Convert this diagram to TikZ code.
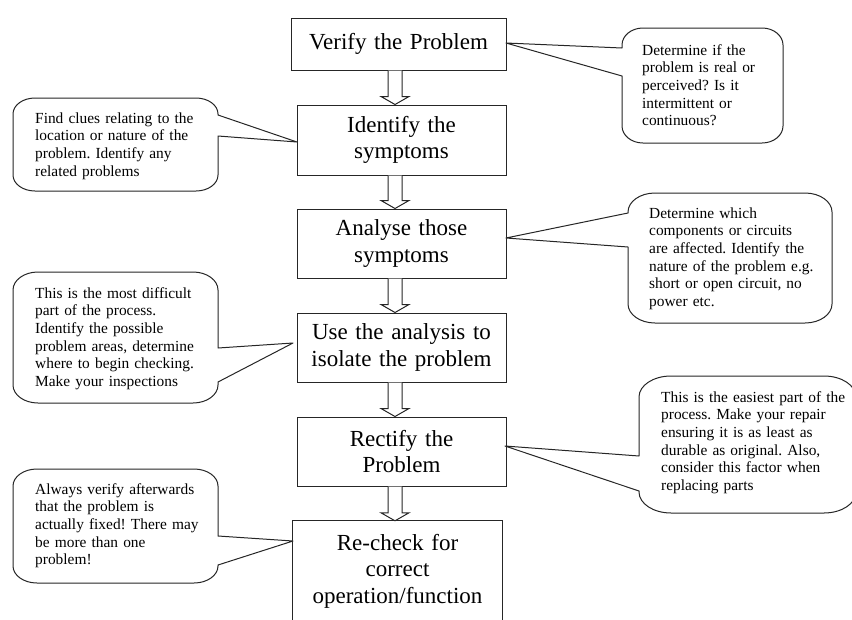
\documentclass[tikz,border=0pt]{standalone}
\usepackage{fontspec}
\setmainfont{Liberation Serif}
\frenchspacing
\usetikzlibrary{calc}
\colorlet{linecol}{black!85}
\tikzset{
  flowbox/.style={draw=linecol, line width=1pt, inner sep=0pt, text width=200pt, align=center,
    font=\fontsize{23}{26.5}\selectfont},
  flowtext/.style={inner sep=0pt, text width=200pt, align=center,
    font=\fontsize{23}{26.5}\selectfont},
  note/.style={inner sep=0pt, anchor=base west, text width=230pt, align=left,
    font=\fontsize{15.4}{17.7}\selectfont},
  outline/.style={draw=linecol, line width=1pt, line join=round, fill=white},
  arrowbox/.style={draw=linecol, line width=1pt, line join=miter, fill=white},
}
% callout with pointer on its right edge: L T R B rx ry p1 p2 tip
\newcommand\calloutR[9]{%
  \pgfmathsetmacro\coTa{#2+#6}\pgfmathsetmacro\coTb{#2+0.448*#6}%
  \pgfmathsetmacro\coBa{#4-#6}\pgfmathsetmacro\coBb{#4-0.448*#6}%
  \pgfmathsetmacro\coLa{#1+#5}\pgfmathsetmacro\coLb{#1+0.448*#5}%
  \pgfmathsetmacro\coRa{#3-#5}\pgfmathsetmacro\coRb{#3-0.448*#5}%
  \path[outline] (#3,#7) -- (#3,\coTa) .. controls (#3,\coTb) and (\coRb,#2) .. (\coRa,#2)
    -- (\coLa,#2) .. controls (\coLb,#2) and (#1,\coTb) .. (#1,\coTa)
    -- (#1,\coBa) .. controls (#1,\coBb) and (\coLb,#4) .. (\coLa,#4)
    -- (\coRa,#4) .. controls (\coRb,#4) and (#3,\coBb) .. (#3,\coBa)
    -- (#3,#8) -- (#9) -- cycle;%
}
% callout with pointer on its left edge: L T R B rx ry p1 p2 tip
\newcommand\calloutL[9]{%
  \pgfmathsetmacro\coTa{#2+#6}\pgfmathsetmacro\coTb{#2+0.448*#6}%
  \pgfmathsetmacro\coBa{#4-#6}\pgfmathsetmacro\coBb{#4-0.448*#6}%
  \pgfmathsetmacro\coLa{#1+#5}\pgfmathsetmacro\coLb{#1+0.448*#5}%
  \pgfmathsetmacro\coRa{#3-#5}\pgfmathsetmacro\coRb{#3-0.448*#5}%
  \path[outline] (#1,#7) -- (#1,\coTa) .. controls (#1,\coTb) and (\coLb,#2) .. (\coLa,#2)
    -- (\coRa,#2) .. controls (\coRb,#2) and (#3,\coTb) .. (#3,\coTa)
    -- (#3,\coBa) .. controls (#3,\coBb) and (\coRb,#4) .. (\coRa,#4)
    -- (\coLa,#4) .. controls (\coLb,#4) and (#1,\coBb) .. (#1,\coBa)
    -- (#1,#8) -- (#9) -- cycle;%
}
% hollow block arrow from one box to the next
\newcommand\blockarrow[2]{%
  \draw[arrowbox] let \p1=(#1.south), \p2=(#2.north) in
    (388pt,\y1) -- (388pt,\y2+8pt) -- (381pt,\y2+8pt) -- (395pt,\y2)
    -- (409pt,\y2+8pt) -- (402pt,\y2+8pt) -- (402pt,\y1);%
}
\begin{document}
\begin{tikzpicture}[x=1pt,y=-1pt]
\useasboundingbox (0,0) rectangle (852,619);

% main boxes
\node[flowbox, minimum width=215pt, minimum height=52pt] (b1) at (398.5,44) {Verify the Problem};
\node[flowbox, minimum width=209pt, minimum height=70pt] (b2) at (401.5,140) {Identify the\\symptoms};
\node[flowbox, minimum width=209pt, minimum height=69pt] (b3) at (401.5,243.5) {Analyse those\\symptoms};
\node[flowbox, minimum width=209pt, minimum height=69pt] (b4) at (401.5,347.5) {Use the analysis to\\isolate the problem};
\node[flowbox, minimum width=209pt, minimum height=69pt] (b5) at (401.5,451.5) {Rectify the\\Problem};
% last box runs past the bottom edge of the picture: only three sides drawn
\node[inner sep=0pt, minimum width=209pt, minimum height=140pt] (b6) at (397.5,591) {};
\draw[linecol, line width=1pt] (b6.south west) |- (b6.north east) -- (b6.south east);
\node[flowtext, anchor=base] (b6t) at (397.5,550) {Re-check for\\correct\\operation/function};

% block arrows
\blockarrow{b1}{b2}
\blockarrow{b2}{b3}
\blockarrow{b3}{b4}
\blockarrow{b4}{b5}
\blockarrow{b5}{b6}

% pointer tips
\coordinate (tA) at (506,43);
\coordinate (tB) at (297,142);
\coordinate (tC) at (506,238);
\coordinate (tD) at (293,343);
\coordinate (tE) at (505,446);
\coordinate (tF) at (293,541);

% callouts
\calloutL{622}{28}{783}{143}{21}{17}{48}{76}{tA}
\calloutR{13}{98}{218}{191}{22}{16}{115}{136}{tB}
\calloutL{628}{193}{832}{323}{27}{19}{213}{247}{tC}
\calloutR{13}{272}{218}{403}{25}{18}{348}{382}{tD}
\calloutL{639}{376}{856}{513}{32}{21}{456}{491}{tE}
\calloutR{13}{469}{218}{583}{24}{17}{536}{565}{tF}

\node[note] (nA) at (642,55) {Determine if the\\problem is real or\\perceived? Is it\\intermittent or\\continuous?};
\node[note] (nB) at (35,123) {Find clues relating to the\\location or nature of the\\problem. Identify any\\related problems};
\node[note] (nC) at (649,218) {Determine which\\components or circuits\\are affected. Identify the\\nature of the problem e.g.\\short or open circuit, no\\power etc.};
\node[note] (nD) at (35,298) {This is the most difficult\\part of the process.\\Identify the possible\\problem areas, determine\\where to begin checking.\\Make your inspections};
\node[note] (nE) at (661,402) {This is the easiest part of the\\process. Make your repair\\ensuring it is as least as\\durable as original. Also,\\consider this factor when\\replacing parts};
\node[note] (nF) at (35,494) {Always verify afterwards\\that the problem is\\actually fixed! There may\\be more than one\\problem!};
\end{tikzpicture}
\end{document}
